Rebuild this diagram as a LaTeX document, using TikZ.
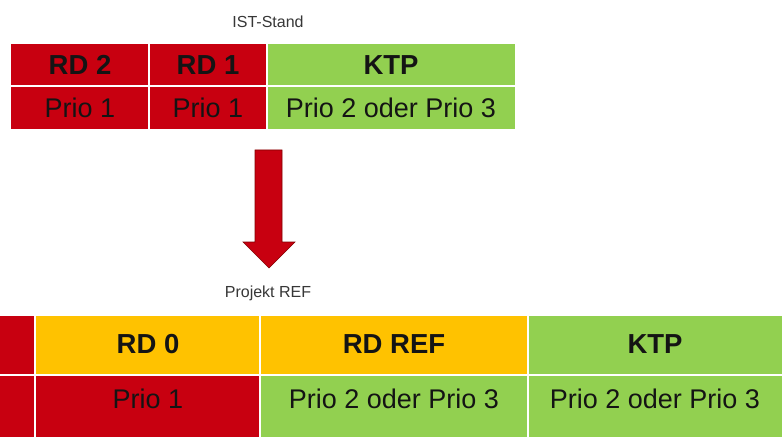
\documentclass[tikz,border=0pt]{standalone}
\usepackage{fontspec}
\setmainfont{Liberation Sans}
\definecolor{cred}{RGB}{200,0,16}
\definecolor{cgreen}{RGB}{146,208,80}
\definecolor{cyellow}{RGB}{255,194,0}
\definecolor{ctext}{RGB}{20,20,20}
\definecolor{arrowedge}{RGB}{130,0,0}
\begin{document}
\begin{tikzpicture}[x=1pt,y=-1pt,
  cell/.style={draw=white,line width=1.6pt,inner sep=0pt,text=ctext},
  head/.style={font=\fontsize{27.5}{30}\selectfont\bfseries,text=ctext},
  body/.style={font=\fontsize{27}{30}\selectfont,text=ctext},
  caption/.style={font=\fontsize{16}{18}\selectfont,text=ctext!85}]
\useasboundingbox[fill=white] (0,0) rectangle (782,441);
% top table
\draw[cell,fill=cred] (10,43) rectangle (149,86);
\draw[cell,fill=cred] (149,43) rectangle (267,86);
\draw[cell,fill=cgreen] (267,43) rectangle (516,86);
\draw[cell,fill=cred] (10,86) rectangle (149,130);
\draw[cell,fill=cred] (149,86) rectangle (267,130);
\draw[cell,fill=cgreen] (267,86) rectangle (516,130);
\node[caption] (ist) at (268,22) {IST-Stand};
\node[head] (t1) at (80,65) {RD 2};
\node[head] (t2) at (208,65) {RD 1};
\node[head] (t3) at (391,65) {KTP};
\node[body] (b1) at (80,108) {Prio 1};
\node[body] (b2) at (208,108) {Prio 1};
\node[body] (b3) at (391,108) {Prio 2 oder Prio 3};
% arrow
\draw[fill=cred,draw=arrowedge,line width=0.6pt,line join=miter]
  (255,150) -- (282,150) -- (282,242) -- (295,242) -- (269,268)
  -- (243,242) -- (255,242) -- cycle;
\node[caption] (proj) at (268,293) {Projekt REF};
% bottom table
\draw[cell,fill=cred] (-2,315) rectangle (35,375);
\draw[cell,fill=cyellow] (35,315) rectangle (260,375);
\draw[cell,fill=cyellow] (260,315) rectangle (528,375);
\draw[cell,fill=cgreen] (528,315) rectangle (784,375);
\draw[cell,fill=cred] (-2,375) rectangle (35,438);
\draw[cell,fill=cred] (35,375) rectangle (260,438);
\draw[cell,fill=cgreen] (260,375) rectangle (528,438);
\draw[cell,fill=cgreen] (528,375) rectangle (784,438);
\node[head] (u1) at (148,344) {RD 0};
\node[head] (u2) at (394,344) {RD REF};
\node[head] (u3) at (655,344) {KTP};
\node[body] (v1) at (148,399) {Prio 1};
\node[body] (v2) at (394,399) {Prio 2 oder Prio 3};
\node[body] (v3) at (655,399) {Prio 2 oder Prio 3};
\end{tikzpicture}
\end{document}
